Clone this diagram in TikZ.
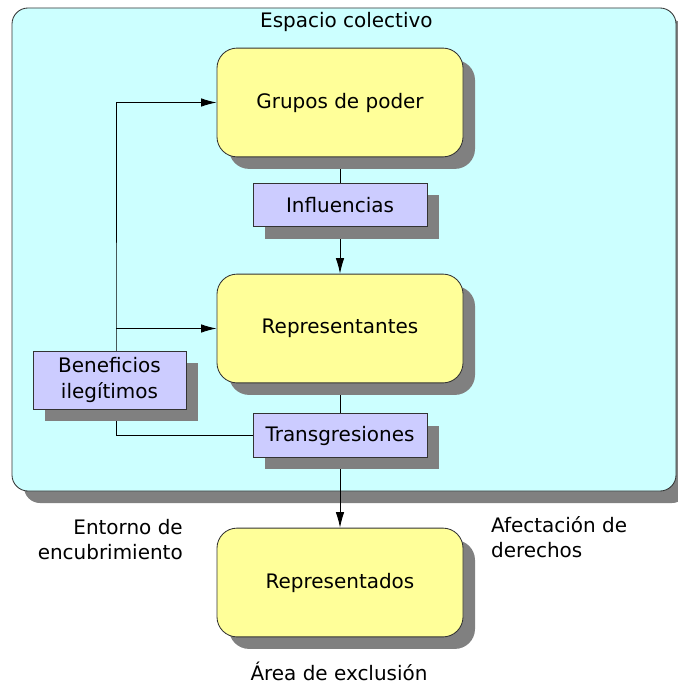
\documentclass[tikz,border=0pt]{standalone}
\usepackage{fontspec}
\setmainfont{DejaVu Sans}
\usetikzlibrary{positioning, shadows, arrows.meta}

\definecolor{cianclaro}{RGB}{204,255,255}
\definecolor{amarillo}{RGB}{255,255,153}
\definecolor{lavanda}{RGB}{204,204,255}

\pgfdeclarelayer{fondo}
\pgfdeclarelayer{lineas}
\pgfsetlayers{fondo,lineas,main}

\begin{document}
\begin{tikzpicture}[font=\fontsize{14.2}{17.8}\selectfont,
                    sombra/.style={drop shadow={shadow xshift=0.3cm, shadow yshift=-0.3cm, fill=black!50, opacity=1}},
                    area/.style={rectangle, draw=black!80, fill=cianclaro, rounded corners=0.4cm, line width=0.6pt, sombra, minimum width=16.6cm, minimum height=12.075cm},
                    actor/.style={rectangle, draw=black!80, fill=amarillo, rounded corners=0.5cm, line width=0.6pt, sombra, minimum width=6.15cm, minimum height=2.72cm, inner sep=0pt},
                    flujo/.style={rectangle, draw=black!80, fill=lavanda, line width=0.6pt, sombra, minimum width=4.35cm, minimum height=1.08cm, inner sep=0pt, align=center},
                    texto/.style={inner sep=0pt},
                    link/.style={->,>={Latex[length=11pt,width=6pt]}, line width=0.6pt}]
            \useasboundingbox (0,0) rectangle (16.925,-17.1);

            % Espacio colectivo
            \begin{pgfonlayer}{fondo}
                \node[area] (espacio) at (8.6,-6.2375) {};
            \end{pgfonlayer}
            \node[texto, anchor=base] (titulo) at (8.66,-0.7) {Espacio colectivo};

            % Actores
            \node[actor] (grupos) at (8.5,-2.5625) {Grupos de poder};
            \node[actor] (representantes) at (8.5,-8.2125) {Representantes};
            \node[actor] (representados) at (8.5,-14.5625) {Representados};

            % Flujos
            \node[flujo] (influencias) at (8.5,-5.125) {Influencias};
            \node[flujo] (transgresiones) at (8.5,-10.8875) {Transgresiones};
            \node[flujo, minimum width=3.825cm, minimum height=1.45cm] (beneficios) at (2.7375,-9.5) {Beneficios\\ilegítimos};
            \coordinate (ramal) at (2.9,-9.5);

            % Textos sueltos
            \node[texto, align=right, anchor=east] (entorno) at (4.575,-13.5) {Entorno de\\encubrimiento};
            \node[texto, align=left, anchor=west] (afectacion) at (12.27,-13.43) {Afectación de\\derechos};
            \node[texto, anchor=base] (exclusion) at (8.475,-17.0) {Área de exclusión};

            % Relaciones
            \begin{pgfonlayer}{lineas}
                \draw[link] (grupos) -- (representantes);
                \draw[link] (representantes) -- (representados);
                \draw[link] (transgresiones.west) -| (ramal) |- (grupos.west);
                \draw[link] (ramal |- representantes.west) -- (representantes.west);
            \end{pgfonlayer}
        \end{tikzpicture}
\end{document}
